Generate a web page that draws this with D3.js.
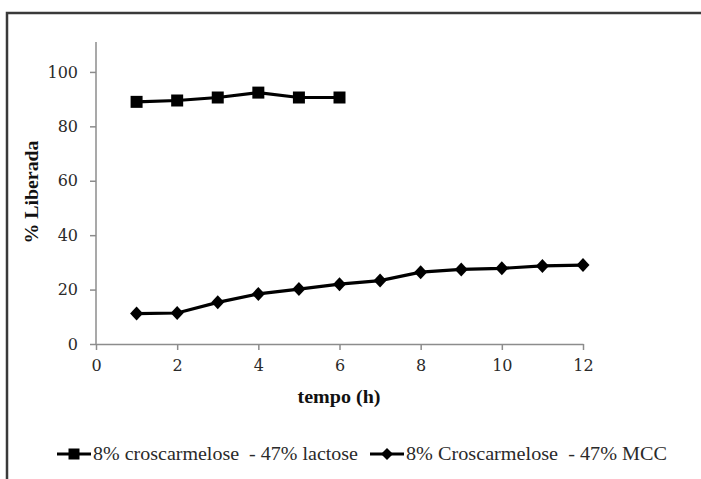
<!DOCTYPE html>
<html><head><meta charset="utf-8">
<script src="https://cdn.jsdelivr.net/npm/d3@7"></script>
<style>body{margin:0;background:#fff}svg{display:block}</style>
</head><body>
<svg id="c" width="701" height="479"></svg>
<script>
const timeLactose = [1, 2, 3, 4, 5, 6];
const valLactose = [89.0, 89.5, 90.6, 92.4, 90.6, 90.6];
const timeMCC = [1, 2, 3, 4, 5, 6, 7, 8, 9, 10, 11, 12];
const valMCC = [11.2, 11.4, 15.3, 18.4, 20.2, 22.0, 23.3, 26.4, 27.4, 27.8, 28.7, 29.0];
const xTicks = [0, 2, 4, 6, 8, 10, 12];
const yTicks = [0, 20, 40, 60, 80, 100];
const seriesNames = ["8% croscarmelose  - 47% lactose", "8% Croscarmelose  - 47% MCC"];
const xLabel = "tempo (h)";
const yLabel = "% Liberada";

const svg = d3.select("#c");
const serif = "'Liberation Serif', 'Times New Roman', serif";
const tickFont = "'DejaVu Serif', serif";

// outer frame (top and left visible)
svg.append("path").attr("d", "M7,479 V13 H701").attr("fill", "none")
  .attr("stroke", "#3a3a3a").attr("stroke-width", 2.5);

const x = d3.scaleLinear().domain([0, 12]).range([96, 583]);
const y = d3.scaleLinear().domain([0, 111]).range([344, 42]);

const axisColor = "#8c8c8c";
const gy = svg.append("g").attr("transform", "translate(96,0)")
  .call(d3.axisLeft(y).tickValues(yTicks).tickSize(6).tickPadding(12).tickSizeOuter(0));
const gx = svg.append("g").attr("transform", "translate(0,344)")
  .call(d3.axisBottom(x).tickValues(xTicks).tickSize(6).tickPadding(10).tickSizeOuter(0));
[gx, gy].forEach(g => {
  g.select(".domain").attr("stroke", axisColor).attr("stroke-width", 1.5);
  g.selectAll(".tick line").attr("stroke", axisColor).attr("stroke-width", 1.5);
  g.selectAll(".tick text").attr("fill", "#2a2a2a").style("font-family", tickFont).style("font-size", "16px");
});
gy.select(".domain").attr("d", `M0,${y(111)}V${y(0)}`);

svg.append("text").attr("x", 339).attr("y", 403).attr("text-anchor", "middle")
  .style("font-family", serif).style("font-size", "19px").style("font-weight", "bold")
  .attr("textLength", 83).attr("lengthAdjust", "spacingAndGlyphs")
  .attr("fill", "#111").text(xLabel);
svg.append("text").attr("transform", "translate(38,192) rotate(-90)").attr("text-anchor", "middle")
  .style("font-family", serif).style("font-size", "19px").style("font-weight", "bold")
  .attr("textLength", 103).attr("lengthAdjust", "spacingAndGlyphs")
  .attr("fill", "#111").text(yLabel);

const line = d3.line().x(d => x(d[0])).y(d => y(d[1]));
const dLac = timeLactose.map((t, i) => [t, valLactose[i]]);
const dMCC = timeMCC.map((t, i) => [t, valMCC[i]]);

svg.append("path").datum(dLac).attr("d", line).attr("fill", "none").attr("stroke", "#000").attr("stroke-width", 3.2);
svg.append("path").datum(dMCC).attr("d", line).attr("fill", "none").attr("stroke", "#000").attr("stroke-width", 3.2);

const square = s => `M${-s/2},${-s/2}h${s}v${s}h${-s}Z`;
const diamond = (w, h) => `M0,${-h/2}L${w/2},0L0,${h/2}L${-w/2},0Z`;

svg.selectAll(".sq").data(dLac).join("path").attr("class", "sq")
  .attr("transform", d => `translate(${x(d[0])},${y(d[1])})`).attr("d", square(12)).attr("fill", "#000");
svg.selectAll(".dm").data(dMCC).join("path").attr("class", "dm")
  .attr("transform", d => `translate(${x(d[0])},${y(d[1])})`).attr("d", diamond(13, 14)).attr("fill", "#000");

// legend
const ly = 454;
const leg = [
  {x0: 57, x1: 91, mark: square(11), name: seriesNames[0], tx: 93, w: 265},
  {x0: 370, x1: 404, mark: diamond(12, 12), name: seriesNames[1], tx: 406, w: 261}
];
leg.forEach(l => {
  svg.append("line").attr("x1", l.x0).attr("x2", l.x1).attr("y1", ly).attr("y2", ly)
    .attr("stroke", "#000").attr("stroke-width", 3.2);
  svg.append("path").attr("transform", `translate(${(l.x0 + l.x1) / 2},${ly})`)
    .attr("d", l.mark).attr("fill", "#000");
  svg.append("text").attr("x", l.tx).attr("y", ly + 6).attr("xml:space", "preserve")
    .style("white-space", "pre")
    .attr("textLength", l.w).attr("lengthAdjust", "spacingAndGlyphs")
    .style("font-family", serif).style("font-size", "19px").attr("fill", "#2a2a2a").text(l.name);
});
</script>
</body></html>
